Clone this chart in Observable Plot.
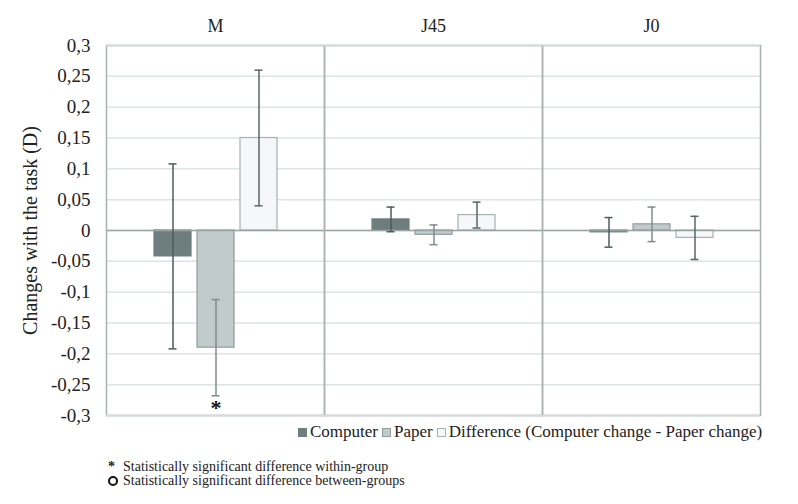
<!DOCTYPE html>
<html>
<head>
<meta charset="utf-8">
<script src="https://cdn.jsdelivr.net/npm/d3@7"></script>
<script src="https://cdn.jsdelivr.net/npm/@observablehq/plot@0.6"></script>
</head>
<body style="margin:0;padding:0;background:#fff;width:798px;height:504px;overflow:hidden;color:#222;font-family:'Liberation Serif'">
<div id="chart"></div>
<div id="legend" style="position:absolute;left:294px;top:422px;font-size:17px;white-space:nowrap;display:flex;align-items:center;font-family:'Liberation Serif'"></div>
<div id="notes" style="position:absolute;left:108px;top:460px;font-size:14px;line-height:14px;font-family:'Liberation Serif'"></div>
<script>
// ---- data ----
const panels = ["M", "J45", "J0"];
const series = ["Computer", "Paper", "Difference"];
const legendLabels = ["Computer", "Paper", "Difference (Computer change - Paper change)"];
const computerMean = [-0.042, 0.018, -0.003];
const paperMean = [-0.19, -0.007, 0.01];
const diffMean = [0.15, 0.025, -0.012];
const computerErr = [0.15, 0.02, 0.024];
const paperErr = [0.078, 0.016, 0.028];
const diffErr = [0.11, 0.021, 0.035];
const withinSignificant = [["M", "Paper"]];
const yTicks = [-0.3, -0.25, -0.2, -0.15, -0.1, -0.05, 0, 0.05, 0.1, 0.15, 0.2, 0.25, 0.3];
const yLabel = "Changes with the task (D)";
const notes = ["Statistically significant difference within-group", "Statistically significant difference between-groups"];

// ---- styling ----
const fills = ["#6e7e7e", "#c1cbca", "#f5f7f8"];
const strokes = ["#6e7e7e", "#8f9d9c", "#a7b1b1"];
const errColors = ["#4f5b5b", "#7f8d8d", "#5a6666"];
const FONT = "Liberation Serif";

const means = [computerMean, paperMean, diffMean];
const errs = [computerErr, paperErr, diffErr];
const rows = [];
panels.forEach((p, i) => series.forEach((s, j) => {
  rows.push({panel: p, series: s, value: means[j][i], lo: means[j][i] - errs[j][i], hi: means[j][i] + errs[j][i]});
}));
const sig = rows.filter(r => withinSignificant.some(([p, s]) => p === r.panel && s === r.series));

const fmt = d => d === 0 ? "0" : String(d).replace(".", ",");

const chart = Plot.plot({
  width: 798,
  height: 430,
  marginLeft: 106,
  marginRight: 38,
  marginTop: 45,
  marginBottom: 15,
  style: {fontFamily: FONT, fontSize: "18px", color: "#222", overflow: "visible"},
  fx: {domain: panels, padding: 0},
  x: {domain: series, paddingInner: 0.14, paddingOuter: 1.1},
  y: {domain: [-0.3, 0.3]},
  color: {domain: series, range: fills},
  marks: [
    Plot.gridY(yTicks, {stroke: "#dde4e4", strokeOpacity: 1, strokeWidth: 1.5}),
    Plot.axisFx({anchor: "top", label: null, tickSize: 0, tickPadding: 14, fontFamily: FONT, fontSize: 18, fill: "#222"}),
    Plot.axisX({ticks: [], label: null, tickSize: 0, tickFormat: () => ""}),
    Plot.axisY({ticks: yTicks, tickFormat: fmt, tickSize: 0, tickPadding: 16, fontFamily: FONT, fontSize: 19, fill: "#222", label: null}),
    Plot.axisY({ticks: [], anchor: "left", label: yLabel, labelAnchor: "center", labelArrow: "none", labelOffset: 84, fontFamily: FONT, fontSize: 20, fill: "#222"}),
    Plot.barY(rows, {fx: "panel", x: "series", y: "value", fill: "series", stroke: d => strokes[series.indexOf(d.series)], strokeWidth: 1.2}),
    Plot.ruleY([0], {stroke: "#9aa3a3", strokeWidth: 1.5}),
    Plot.ruleX(rows, {fx: "panel", x: "series", y1: "lo", y2: "hi", stroke: d => errColors[series.indexOf(d.series)], strokeWidth: 1.5}),
    Plot.tickY(rows, {fx: "panel", x: "series", y: "lo", stroke: d => errColors[series.indexOf(d.series)], strokeWidth: 1.5, insetLeft: 14.5, insetRight: 14.5}),
    Plot.tickY(rows, {fx: "panel", x: "series", y: "hi", stroke: d => errColors[series.indexOf(d.series)], strokeWidth: 1.5, insetLeft: 14.5, insetRight: 14.5}),
    Plot.text(sig, {fx: "panel", x: "series", y: "lo", text: () => "*", dy: 12, fontSize: 22, fontWeight: "bold", fill: "#111", fontFamily: FONT}),
    Plot.frame({stroke: "#a9b1b1", strokeWidth: 1.5}),
    Plot.ruleY([0.3, -0.3], {stroke: "#d5dcdc", strokeWidth: 1.5})
  ]
});
document.getElementById("chart").appendChild(chart);
chart.querySelectorAll("text").forEach(t => {
  t.style.setProperty("font-family", "'Liberation Serif'", "important");
});

// legend
const lg = document.getElementById("legend");
legendLabels.forEach((l, i) => {
  const sw = document.createElement("span");
  sw.style.cssText = "display:inline-block;width:9px;height:9px;margin:0 3px 0 4px;box-sizing:border-box;background:" + fills[i] + ";border:1px solid " + strokes[i];
  const t = document.createElement("span");
  t.textContent = l;
  t.style.fontFamily = "'Liberation Serif'";
  lg.appendChild(sw); lg.appendChild(t);
});

// notes
const nt = document.getElementById("notes");
notes.forEach((n, i) => {
  const div = document.createElement("div");
  div.style.fontFamily = "'Liberation Serif'";
  const sym = document.createElement("span");
  sym.style.cssText = "display:inline-block;width:15px;font-weight:bold;font-family:'Liberation Serif'";
  if (i === 0) sym.textContent = "*";
  else {
    const r = document.createElement("span");
    r.style.cssText = "display:inline-block;width:6px;height:6px;border:2.5px solid #111;border-radius:50%;box-sizing:content-box;vertical-align:-1px";
    sym.appendChild(r);
  }
  const t = document.createElement("span");
  t.textContent = n;
  t.style.fontFamily = "'Liberation Serif'";
  div.appendChild(sym);
  div.appendChild(t);
  nt.appendChild(div);
});
</script>
</body>
</html>
